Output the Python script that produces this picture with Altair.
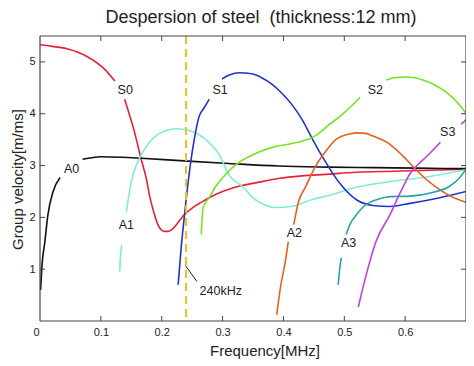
import altair as alt
import pandas as pd

W, H = 426, 285

# ---- data (frequency MHz, group velocity m/ms), split where mode labels interrupt ----
S0_1_f = [0.0, 0.02, 0.046, 0.078, 0.106, 0.123]
S0_1_v = [5.33, 5.30, 5.25, 5.10, 4.86, 4.63]
S0_2_f = [0.139, 0.147, 0.155, 0.165, 0.175, 0.180, 0.187, 0.193, 0.199, 0.204, 0.21, 0.216,
          0.225, 0.232, 0.237, 0.25, 0.265, 0.278, 0.30, 0.327, 0.36, 0.392, 0.43, 0.469,
          0.52, 0.58, 0.64, 0.70]
S0_2_v = [4.28, 3.98, 3.66, 3.18, 2.73, 2.42, 2.10, 1.88, 1.76, 1.73, 1.73, 1.76,
          1.87, 1.98, 2.05, 2.18, 2.29, 2.38, 2.50, 2.60, 2.68, 2.75, 2.80, 2.83,
          2.87, 2.89, 2.91, 2.93]

A0_1_f = [0.001, 0.003, 0.008, 0.013, 0.021, 0.033]
A0_1_v = [0.60, 1.03, 1.53, 2.05, 2.48, 2.77]
A0_2_f = [0.07, 0.10, 0.134, 0.167, 0.237, 0.31, 0.392, 0.474, 0.55, 0.62, 0.70]
A0_2_v = [3.12, 3.17, 3.16, 3.14, 3.09, 3.04, 2.99, 2.97, 2.96, 2.95, 2.94]

A1_1_f = [0.131, 0.132, 0.134]
A1_1_v = [0.95, 1.20, 1.47]
A1_2_f = [0.142, 0.150, 0.158, 0.167, 0.178, 0.188, 0.200, 0.212, 0.224, 0.240, 0.261,
          0.278, 0.294, 0.310, 0.332, 0.354, 0.37, 0.387, 0.413, 0.446, 0.474, 0.52,
          0.575, 0.629, 0.70]
A1_2_v = [2.11, 2.69, 3.00, 3.22, 3.42, 3.55, 3.64, 3.69, 3.71, 3.69, 3.60,
          3.44, 3.22, 2.83, 2.60, 2.34, 2.24, 2.19, 2.21, 2.34, 2.42, 2.58,
          2.69, 2.77, 2.92]

S1_1_f = [0.227, 0.232, 0.237, 0.245, 0.253, 0.261, 0.270, 0.278]
S1_1_v = [0.70, 1.42, 2.00, 2.83, 3.47, 3.93, 4.12, 4.28]
S1_2_f = [0.299, 0.312, 0.327, 0.348, 0.365, 0.381, 0.397, 0.413, 0.430, 0.446, 0.46,
          0.474, 0.482, 0.498, 0.52, 0.547, 0.575, 0.608, 0.657, 0.70]
S1_2_v = [4.67, 4.75, 4.79, 4.77, 4.69, 4.57, 4.40, 4.19, 3.90, 3.55, 3.25,
          2.98, 2.83, 2.58, 2.34, 2.23, 2.21, 2.27, 2.38, 2.50]

S2_1_f = [0.265, 0.268, 0.278, 0.289, 0.305, 0.327, 0.345, 0.364, 0.385, 0.408, 0.430,
          0.446, 0.460, 0.474, 0.493, 0.510, 0.526]
S2_1_v = [1.67, 2.19, 2.38, 2.60, 2.83, 3.06, 3.18, 3.28, 3.36, 3.41, 3.47,
          3.53, 3.64, 3.78, 3.95, 4.13, 4.32]
S2_2_f = [0.569, 0.585, 0.601, 0.618, 0.634, 0.651, 0.667, 0.684, 0.70]
S2_2_v = [4.65, 4.70, 4.71, 4.69, 4.63, 4.54, 4.42, 4.24, 4.01]

A2_1_f = [0.389, 0.395, 0.403, 0.408]
A2_1_v = [0.12, 0.64, 1.14, 1.53]
A2_2_f = [0.417, 0.425, 0.436, 0.446, 0.456, 0.466, 0.487, 0.505, 0.52, 0.535, 0.547,
          0.575, 0.595, 0.613, 0.634, 0.655, 0.673, 0.70]
A2_2_v = [1.86, 2.31, 2.58, 2.83, 3.05, 3.22, 3.51, 3.60, 3.63, 3.62, 3.57,
          3.41, 3.20, 2.98, 2.74, 2.55, 2.42, 2.29]

A3_1_f = [0.490, 0.492, 0.495]
A3_1_v = [0.70, 0.96, 1.22]
A3_2_f = [0.503, 0.510, 0.520, 0.530, 0.542, 0.558, 0.575, 0.608, 0.645, 0.673, 0.690, 0.70]
A3_2_v = [1.67, 1.88, 2.05, 2.19, 2.29, 2.36, 2.40, 2.41, 2.48, 2.60, 2.77, 2.93]

S3_1_f = [0.523, 0.536, 0.552, 0.575, 0.593, 0.609, 0.622, 0.634, 0.658]
S3_1_v = [0.27, 0.89, 1.53, 2.05, 2.50, 2.86, 3.03, 3.16, 3.45]
S3_2_f = [0.692, 0.70]
S3_2_v = [3.80, 3.88]

modes = ["A0", "S0", "A1", "S1", "S2", "A2", "A3", "S3"]
colors = ["#111111", "#e8203a", "#7eecd8", "#2233cc", "#77e322", "#e8601c", "#2aa3a3", "#c13fe8"]

segments = [
    ("S0", "S0_1", S0_1_f, S0_1_v), ("S0", "S0_2", S0_2_f, S0_2_v),
    ("A0", "A0_1", A0_1_f, A0_1_v), ("A0", "A0_2", A0_2_f, A0_2_v),
    ("A1", "A1_1", A1_1_f, A1_1_v), ("A1", "A1_2", A1_2_f, A1_2_v),
    ("S1", "S1_1", S1_1_f, S1_1_v), ("S1", "S1_2", S1_2_f, S1_2_v),
    ("S2", "S2_1", S2_1_f, S2_1_v), ("S2", "S2_2", S2_2_f, S2_2_v),
    ("A2", "A2_1", A2_1_f, A2_1_v), ("A2", "A2_2", A2_2_f, A2_2_v),
    ("A3", "A3_1", A3_1_f, A3_1_v), ("A3", "A3_2", A3_2_f, A3_2_v),
    ("S3", "S3_1", S3_1_f, S3_1_v), ("S3", "S3_2", S3_2_f, S3_2_v),
]

rows = []
for mode, seg, fs, vs in segments:
    for i, (f, v) in enumerate(zip(fs, vs)):
        rows.append({"mode": mode, "seg": seg, "f": f, "v": v, "i": i})
df = pd.DataFrame(rows)

label_text = ["S0", "S1", "S2", "S3", "A0", "A1", "A2", "A3", "240kHz"]
label_f = [0.140, 0.296, 0.551, 0.670, 0.052, 0.142, 0.418, 0.507, 0.297]
label_v = [4.46, 4.46, 4.46, 3.64, 2.93, 1.86, 1.69, 1.51, 0.58]
labels = pd.DataFrame({"t": label_text, "f": label_f, "v": label_v})

pointer = pd.DataFrame({"f": [0.239], "v": [1.07], "f2": [0.258], "v2": [0.76]})
marker_f = [0.24]

x_ticks = [0.1, 0.2, 0.3, 0.4, 0.5, 0.6]
y_ticks = [1, 2, 3, 4, 5]

TITLE = "Despersion of steel \u00a0(thickness:12 mm)"
XT = "Frequency[MHz]"
YT = "Group velocity[m/ms]"

FONT = "Arial, Liberation Sans, Helvetica, sans-serif"
TXT = "#222222"
FR = "#444444"

xs = alt.Scale(domain=[0, 0.7], nice=False, zero=False)
ys = alt.Scale(domain=[0, 5.5], nice=False, zero=False)

x_axis = alt.Axis(values=[0] + x_ticks, format=".1~f", tickSize=0, domain=False, grid=False,
                  labelPadding=5, labelFontSize=11, labelFont=FONT, labelColor=TXT,
                  labelOffset={"condition": {"test": "datum.value == 0", "value": -7}, "value": 0})
y_axis = alt.Axis(values=y_ticks, tickSize=0, domain=False, grid=False,
                  labelPadding=5, labelFontSize=11, labelFont=FONT, labelColor=TXT)


def X(field):
    return alt.X(field, scale=xs, title="", axis=x_axis)


def Y(field):
    return alt.Y(field, scale=ys, title="", axis=y_axis)


lines = alt.Chart(df).mark_line(strokeWidth=1.6, interpolate="monotone", clip=True).encode(
    x=X("f:Q"),
    y=Y("v:Q"),
    color=alt.Color("mode:N", scale=alt.Scale(domain=modes, range=colors), legend=None),
    detail="seg:N",
    order="i:Q",
)

vline = alt.Chart(pd.DataFrame({"f": marker_f})).mark_rule(
    color="#f0c020", strokeWidth=2, strokeDash=[8, 5]
).encode(x=X("f:Q"), y=alt.value(0), y2=alt.value(H))

ptr = alt.Chart(pointer).mark_rule(color=TXT, strokeWidth=1).encode(
    x=X("f:Q"), y=Y("v:Q"), x2="f2:Q", y2="v2:Q"
)

txt = alt.Chart(labels).mark_text(font=FONT, fontSize=12.5, color=TXT, baseline="middle", align="center").encode(
    x=X("f:Q"), y=Y("v:Q"), text="t:N"
)

xt = pd.DataFrame({"f": x_ticks})
yt = pd.DataFrame({"v": y_ticks})
tick_b = alt.Chart(xt).mark_rule(color=FR, strokeWidth=1).encode(
    x=X("f:Q"), y=alt.value(H), y2=alt.value(H - 5))
tick_t = alt.Chart(xt).mark_rule(color=FR, strokeWidth=1).encode(
    x=X("f:Q"), y=alt.value(0), y2=alt.value(5))
tick_l = alt.Chart(yt).mark_rule(color=FR, strokeWidth=1).encode(
    y=Y("v:Q"), x=alt.value(0), x2=alt.value(5))
tick_r = alt.Chart(yt).mark_rule(color=FR, strokeWidth=1).encode(
    y=Y("v:Q"), x=alt.value(W), x2=alt.value(W - 5))

one = pd.DataFrame({"k": [0]})
frame_t = alt.Chart(one).mark_rule(color=FR, strokeWidth=1.2).encode(
    x=alt.value(0), x2=alt.value(W), y=alt.value(0))
frame_b = alt.Chart(one).mark_rule(color=FR, strokeWidth=1.2).encode(
    x=alt.value(0), x2=alt.value(W), y=alt.value(H))
frame_l = alt.Chart(one).mark_rule(color=FR, strokeWidth=1.2).encode(
    x=alt.value(0), y=alt.value(0), y2=alt.value(H))
frame_r = alt.Chart(one).mark_rule(color=FR, strokeWidth=1.2).encode(
    x=alt.value(W), y=alt.value(0), y2=alt.value(H))

title_t = alt.Chart(one).mark_text(text=TITLE, font=FONT, fontSize=18, color=TXT,
                                   align="center", baseline="alphabetic").encode(
    x=alt.value(221), y=alt.value(-13))
xtitle = alt.Chart(one).mark_text(text=XT, font=FONT, fontSize=15, color=TXT,
                                  align="center", baseline="middle").encode(
    x=alt.value(225), y=alt.value(H + 30))
ytitle = alt.Chart(one).mark_text(text=YT, font=FONT, fontSize=15, color=TXT, angle=270,
                                  align="center", baseline="middle").encode(
    x=alt.value(-22), y=alt.value(H / 2 + 1))

chart = alt.layer(lines, tick_b, tick_t, tick_l, tick_r, vline, ptr, txt,
                  frame_t, frame_b, frame_l, frame_r, title_t, xtitle, ytitle).properties(
    width=W, height=H,
    autosize=alt.AutoSizeParams(type="none"),
    padding={"left": 32, "top": 28, "right": 0, "bottom": 39},
    background="white",
).configure_view(stroke="transparent", strokeWidth=0)

chart.save("out.html", embed_options={"renderer": "svg", "actions": False})
